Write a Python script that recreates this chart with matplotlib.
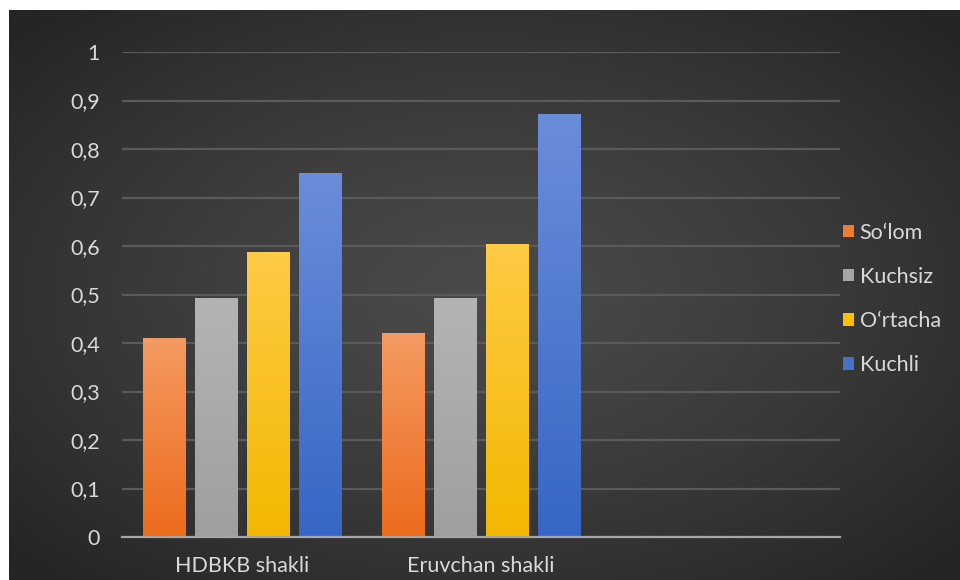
import numpy as np
import matplotlib.pyplot as plt
from matplotlib.colors import to_rgb
from matplotlib.patches import Patch

categories = ["HDBKB shakli", "Eruvchan shakli", ""]
series = ["So\u2018lom", "Kuchsiz", "O\u2018rtacha", "Kuchli"]
values = {
    "So\u2018lom": [0.41, 0.42, 0],
    "Kuchsiz": [0.493, 0.493, 0],
    "O\u2018rtacha": [0.588, 0.604, 0],
    "Kuchli": [0.75, 0.872, 0],
}
yticks = [0, 0.1, 0.2, 0.3, 0.4, 0.5, 0.6, 0.7, 0.8, 0.9, 1]

# top / bottom colours of each bar gradient, plus legend swatch
grad = {
    "So\u2018lom": ("#f59a62", "#ec6b1c"),
    "Kuchsiz": ("#b4b4b4", "#9f9f9f"),
    "O\u2018rtacha": ("#ffca45", "#f2b800"),
    "Kuchli": ("#6a8dd9", "#3766c6"),
}
swatch = {"So\u2018lom": "#ed7d31", "Kuchsiz": "#a5a5a5",
          "O\u2018rtacha": "#ffc000", "Kuchli": "#4472c4"}

plt.rcParams['font.family'] = ['Lato', 'DejaVu Sans']
txt = "#d9d9d9"
fs = 15.5

fig = plt.figure(figsize=(9.6, 5.8), dpi=100)
fig.patch.set_facecolor("white")

# dark radial background (white strip left/top like the screenshot)
bg = fig.add_axes([9 / 960, 0, 1 - 9 / 960, 1 - 10 / 580])
bg.set_axis_off()
yy, xx = np.mgrid[-1:1:300j, -1:1:500j]
r = np.clip(np.sqrt(xx ** 2 + yy ** 2) / 1.35, 0, 1)
c0 = np.array(to_rgb("#4a4a4a"))
c1 = np.array(to_rgb("#252525"))
img = c0 + (c1 - c0) * r[..., None] ** 1.3
bg.imshow(img, aspect="auto", extent=[0, 1, 0, 1])
bg.set_xlim(0, 1)
bg.set_ylim(0, 1)

ax = fig.add_axes([122 / 960, 1 - 537 / 580, 718 / 960, 485 / 580])
ax.patch.set_alpha(0)
ax.set_xlim(-0.5, 2.5)
ax.set_ylim(0, 1)

x = np.arange(len(categories))
step = 0.2175
width = 0.176
for i, s in enumerate(series):
    bars = ax.bar(x + (i - 1.5) * step, values[s], width, color="none", zorder=3)
    top, bot = np.array(to_rgb(grad[s][0])), np.array(to_rgb(grad[s][1]))
    g = np.linspace(0, 1, 100)[:, None, None]
    gimg = top + (bot - top) * g
    for b in bars:
        if b.get_height() <= 0:
            continue
        x0, w, h = b.get_x(), b.get_width(), b.get_height()
        im = ax.imshow(gimg, extent=[x0, x0 + w, 0, h], aspect="auto", zorder=3)
        im.set_clip_path(b)

ax.set_yticks(yticks)
ax.set_yticklabels([f"{v:g}".replace(".", ",") for v in yticks])
ax.set_xticks(x)
ax.set_xticklabels(categories)
ax.grid(axis="y", color="#5a5a5a", linewidth=1.6, zorder=0)
ax.set_axisbelow(True)
for sp in ["top", "right", "left"]:
    ax.spines[sp].set_visible(False)
ax.spines["bottom"].set_color("#a6a6a6")
ax.spines["bottom"].set_linewidth(1.6)
ax.spines["bottom"].set_zorder(4)
ax.tick_params(axis="y", length=0, pad=16, labelcolor=txt, labelsize=fs)
ax.tick_params(axis="x", length=0, pad=14, labelcolor=txt, labelsize=fs)

handles = [Patch(facecolor=swatch[s], edgecolor="none") for s in series]
leg = fig.legend(handles, series, loc="center left",
                 bbox_to_anchor=(824 / 960, 1 - 299 / 580), frameon=False,
                 fontsize=fs, labelcolor=txt, handlelength=0.5, handleheight=0.5,
                 handletextpad=0.25, labelspacing=1.12)

fig.savefig("out.png", dpi=100, facecolor=fig.get_facecolor())
